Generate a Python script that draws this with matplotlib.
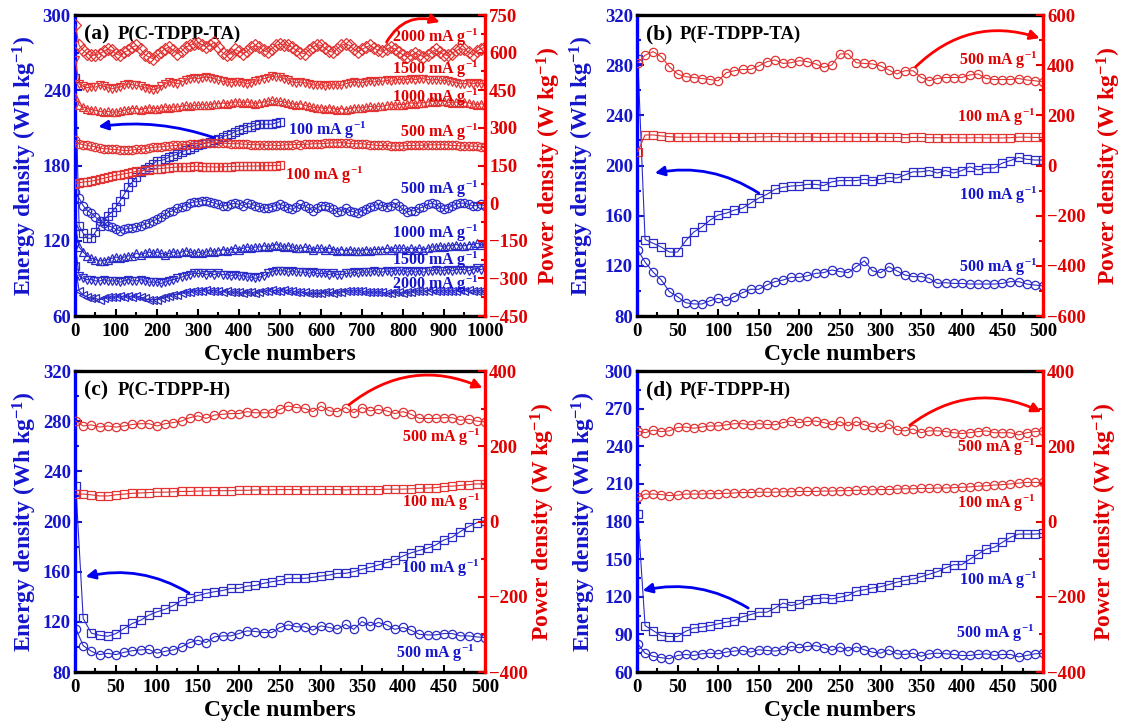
import numpy as np
import matplotlib
matplotlib.use('Agg')
import matplotlib.pyplot as plt
from matplotlib.ticker import MultipleLocator

plt.rcParams['font.family'] = 'Liberation Serif'
plt.rcParams['font.weight'] = 'bold'
plt.rcParams['mathtext.fontset'] = 'custom'
plt.rcParams['mathtext.rm'] = 'Liberation Serif:bold'
plt.rcParams['mathtext.bf'] = 'Liberation Serif:bold'
plt.rcParams['mathtext.it'] = 'Liberation Serif:italic:bold'

BLUE = '#1515cc'
RED = '#e00000'
MBLUE = '#2a2ac8'
MRED = '#e23232'

# cycle numbers
cyc_a = np.r_[1, np.arange(10, 1001, 10)]
cyc_h = np.r_[1, np.arange(10, 501, 10)]

# ---- (a) P(C-TDPP-TA): power density (W kg-1)
p2000_a = [711, 629, 609, 596, 589, 592, 596, 605, 616, 609,
           596, 589, 602, 609, 622, 629, 613, 592, 583, 576,
           589, 602, 616, 622, 609, 596, 605, 622, 629, 636,
           640, 632, 622, 629, 642, 622, 600, 589, 596, 613,
           605, 596, 605, 622, 629, 622, 609, 602, 616, 629,
           636, 632, 629, 622, 609, 600, 596, 609, 622, 632,
           629, 618, 605, 602, 616, 629, 636, 629, 613, 602,
           613, 622, 629, 618, 609, 605, 613, 622, 616, 602,
           592, 583, 589, 600, 592, 583, 589, 602, 613, 602,
           592, 589, 596, 609, 616, 613, 602, 592, 605, 616,
           622]
p1500_a = [569, 476, 466, 460, 463, 463, 470, 466, 460, 456,
           459, 463, 470, 476, 472, 470, 466, 460, 456, 452,
           456, 466, 476, 483, 480, 476, 483, 490, 496, 500,
           496, 500, 503, 500, 496, 490, 486, 483, 480, 483,
           483, 480, 476, 480, 486, 490, 496, 500, 506, 503,
           503, 496, 490, 483, 480, 483, 480, 476, 472, 470,
           472, 466, 470, 472, 470, 470, 476, 480, 483, 480,
           480, 483, 486, 483, 486, 486, 490, 486, 490, 493,
           490, 493, 496, 493, 496, 496, 493, 490, 493, 490,
           490, 486, 483, 480, 476, 476, 480, 476, 480, 476,
           476]
p1000_a = [423, 390, 383, 377, 373, 370, 366, 363, 366, 363,
           363, 366, 370, 373, 377, 377, 373, 377, 380, 377,
           377, 380, 383, 380, 383, 383, 386, 390, 386, 390,
           390, 393, 390, 393, 396, 396, 400, 396, 400, 403,
           403, 400, 403, 400, 396, 400, 403, 406, 410, 406,
           406, 403, 400, 396, 393, 396, 390, 386, 383, 380,
           380, 377, 380, 377, 373, 377, 373, 377, 380, 380,
           380, 383, 386, 383, 386, 386, 390, 393, 390, 393,
           393, 396, 400, 396, 400, 400, 403, 406, 403, 406,
           406, 403, 400, 403, 400, 403, 400, 396, 393, 396,
           393]
p500_a = [250, 237, 233, 230, 227, 224, 220, 217, 217, 214,
          214, 212, 210, 210, 212, 214, 214, 217, 220, 222,
          224, 224, 227, 227, 230, 230, 233, 233, 235, 237,
          237, 240, 240, 241, 241, 241, 240, 238, 237, 237,
          237, 235, 235, 233, 233, 233, 232, 230, 232, 230,
          230, 232, 233, 233, 235, 233, 235, 235, 237, 237,
          237, 238, 240, 240, 241, 241, 240, 238, 237, 237,
          237, 235, 233, 232, 230, 230, 230, 228, 228, 228,
          228, 230, 230, 230, 232, 230, 232, 233, 232, 233,
          233, 232, 230, 230, 228, 228, 228, 227, 227, 224,
          224]
p100_a = [78, 82, 84, 86, 88, 91, 95, 99, 103, 107,
          111, 114, 117, 120, 123, 127, 129, 131, 133, 135,
          137, 138, 140, 141, 143, 144, 145, 145, 146, 147,
          147, 146, 145, 145, 144, 144, 145, 146, 146, 147,
          147, 147, 148, 148, 148, 148, 149, 149, 150, 150,
          151]

# ---- (a) energy density (Wh kg-1)
e100_a = [250, 132, 126, 122, 122, 127, 132, 136, 140, 143,
          147, 152, 157, 163, 167, 171, 175, 177, 179, 181,
          184, 184, 185, 187, 188, 189, 191, 192, 193, 195,
          196, 197, 198, 199, 200, 201, 203, 204, 205, 207,
          208, 209, 211, 211, 212, 213, 213, 213, 213, 214,
          215]
e500_a = [159, 154, 148, 144, 142, 139, 136, 134, 132, 131,
          129, 128, 129, 130, 130, 131, 132, 133, 134, 136,
          137, 139, 141, 143, 144, 146, 147, 148, 150, 151,
          151, 152, 152, 151, 150, 149, 148, 148, 149, 150,
          149, 148, 150, 149, 148, 147, 146, 146, 147, 148,
          149, 148, 146, 145, 147, 149, 148, 146, 144, 146,
          148, 148, 147, 145, 143, 144, 146, 144, 143, 142,
          144, 145, 147, 148, 149, 148, 147, 148, 150, 148,
          145, 143, 144, 144, 146, 147, 149, 150, 149, 147,
          145, 146, 148, 149, 150, 150, 149, 148, 148, 149,
          148]
e1000_a = [132, 115, 111, 108, 106, 105, 104, 104, 105, 106,
           107, 106, 107, 108, 108, 110, 109, 110, 111, 110,
           111, 110, 109, 110, 111, 110, 111, 112, 111, 110,
           111, 110, 111, 112, 111, 112, 113, 112, 113, 114,
           113, 114, 115, 114, 115, 115, 116, 115, 116, 117,
           116, 115, 116, 115, 114, 114, 115, 114, 113, 114,
           114, 113, 114, 113, 112, 113, 112, 113, 112, 112,
           112, 113, 112, 113, 113, 113, 114, 113, 114, 114,
           114, 113, 114, 113, 114, 113, 114, 115, 115, 116,
           115, 116, 116, 117, 116, 116, 117, 117, 118, 117,
           118]
e1500_a = [116, 92, 90, 89, 89, 88, 88, 89, 88, 88,
           88, 87, 88, 89, 88, 88, 89, 88, 87, 87,
           87, 86, 87, 88, 89, 90, 91, 92, 93, 94,
           94, 94, 93, 94, 93, 94, 93, 93, 92, 93,
           92, 92, 91, 91, 90, 91, 92, 94, 95, 96,
           96, 96, 95, 96, 95, 95, 95, 94, 95, 94,
           94, 94, 93, 94, 93, 93, 94, 94, 95, 94,
           95, 95, 95, 96, 95, 95, 96, 95, 96, 96,
           96, 95, 96, 95, 96, 95, 96, 96, 97, 96,
           96, 97, 96, 97, 97, 97, 96, 97, 98, 97,
           98]
e2000_a = [100, 80, 77, 75, 74, 74, 73, 74, 75, 75,
           75, 76, 75, 76, 75, 76, 75, 74, 73, 73,
           73, 74, 75, 76, 77, 77, 78, 79, 79, 80,
           80, 80, 81, 80, 80, 80, 79, 80, 79, 79,
           79, 78, 79, 79, 78, 79, 80, 80, 81, 80,
           80, 81, 80, 80, 79, 79, 79, 78, 78, 78,
           78, 79, 79, 78, 79, 79, 80, 80, 80, 80,
           80, 79, 79, 79, 79, 79, 78, 78, 79, 79,
           78, 79, 79, 80, 80, 80, 80, 81, 80, 80,
           80, 80, 80, 80, 81, 80, 81, 80, 80, 80,
           80]

# ---- (b) P(F-TDPP-TA)
e100_b = [285, 141, 138, 135, 131, 131, 140, 147, 151, 156.5,
          160.5, 162, 164.5, 166, 170, 174, 177, 181, 182.6, 183.7,
          184, 185, 185, 184, 187, 188, 188, 188, 189, 188,
          189, 190.5, 190, 192.5, 195, 195, 196, 194, 196, 194,
          196, 199, 196.5, 198, 198, 202, 204, 206.5, 205, 204.4,
          204.4]
e500_b = [132.6, 123, 115, 108.7, 99.4, 95.4, 90.6, 89.6, 89.6, 92.2,
          94.1, 92.2, 95.4, 98.6, 101.3, 101.3, 104.7, 107.4, 108.7, 110.8,
          110.8, 112, 114, 114.6, 116.7, 115.4, 114.6, 119.3, 124, 116,
          114.6, 119.3, 116, 112.7, 111.4, 111.4, 110, 106, 106.6, 106,
          106, 105.5, 105.5, 105.5, 105.5, 106, 107.4, 107.4, 105.5, 104.7,
          104]
p500_b = [410, 440, 454, 434, 394, 365, 354, 351, 347, 343,
          338, 370, 378, 383, 383, 397, 414, 421, 407, 410,
          418, 414, 405, 391, 401, 445, 445, 410, 407, 405,
          397, 381, 365, 378, 378, 351, 338, 347, 351, 351,
          351, 361, 365, 347, 343, 343, 343, 347, 341, 338,
          334]
p100_b = [55, 122, 122, 118, 115, 113, 113, 113, 114, 113,
          113, 113, 112, 113, 112, 114, 114, 115, 114, 113,
          113, 114, 113, 112, 113, 114, 113, 113, 112, 113,
          113, 112, 112, 111, 112, 112, 111, 111, 110, 111,
          110, 110, 111, 110, 110, 110, 111, 113, 113, 112,
          112]

# ---- (c) P(C-TDPP-H)
e100_c = [228, 122.7, 111, 109.3, 108.5, 110.7, 114.7, 118.7, 121.3, 125.3,
          128, 130, 133, 137, 139, 141, 142.7, 144, 145, 146.7,
          146.7, 148.5, 149, 150.7, 152, 153, 154.7, 154.7, 154.7, 155.5,
          156.5, 157.3, 158.7, 158.7, 160, 161.9, 163.5, 165.3, 167.2, 169.3,
          172.5, 175, 177, 178.7, 181.3, 185.3, 187.5, 192, 196, 199,
          200.8]
e500_c = [114.7, 101, 96.5, 93.9, 94.9, 93.9, 95.7, 97, 97.6, 98,
          95, 96.5, 97.6, 100, 103.5, 105.3, 103.5, 108, 108.8, 108.8,
          110.7, 112.8, 112.3, 111.5, 111.5, 115.5, 117.6, 116, 116, 113.3,
          116.8, 115.5, 114, 118, 114, 120.3, 116.8, 119.5, 117.6, 114,
          115.5, 113.3, 110, 109.6, 109.6, 110.7, 110.7, 108.8, 108.8, 108,
          107.5]
p500_c = [267, 254, 257, 251, 254, 251, 254, 258, 260, 260,
          254, 260, 263, 267, 276, 281, 274, 283, 285, 287,
          287, 292, 289, 289, 289, 298, 307, 303, 301, 292,
          307, 294, 292, 303, 289, 303, 294, 298, 294, 287,
          292, 285, 274, 274, 274, 276, 276, 269, 272, 267,
          265]
p100_c = [73, 73, 71, 68, 68, 71, 73, 75, 76, 77,
          78, 78, 79, 80, 80, 81, 81, 82, 82, 82,
          83, 83, 84, 84, 84, 85, 85, 85, 84, 84,
          85, 85, 85, 84, 85, 85, 85, 85, 86, 86,
          86, 87, 88, 89, 90, 93, 94, 96, 98, 100,
          100]

# ---- (d) P(F-TDPP-H)
e100_d = [186, 97, 93, 89, 88.3, 88.3, 92.5, 95, 95.7, 97,
          98.4, 99.7, 101, 104, 105.8, 107.7, 107.7, 111, 115, 113,
          114.3, 117.5, 118.3, 119, 118.3, 119.6, 121, 124.4, 125.5, 127,
          128, 129.7, 131.6, 133, 134.2, 136, 138, 140, 143, 145.6,
          145.6, 150, 154, 158, 159.4, 163.4, 167.4, 170, 170, 170,
          170.6]
e500_d = [82.5, 75, 72.5, 71.4, 70.6, 73.2, 74, 73.2, 74.5, 75,
          74.5, 75.8, 76.7, 77.2, 75.8, 77.7, 77.2, 76.7, 77.7, 80.4,
          79.3, 80.4, 81, 79.3, 77.2, 80, 76.7, 80, 77.7, 75.8,
          75, 77.7, 74.5, 74, 75, 72.5, 74.5, 75, 74.5, 74,
          73.2, 73.2, 74, 74.5, 73.2, 74, 74, 72, 73.2, 74.5,
          75]
p500_d = [241, 236, 243, 239, 241, 250, 251, 248, 251, 254,
          254, 257, 260, 260, 257, 260, 258, 257, 263, 267,
          263, 266, 267, 263, 257, 266, 254, 266, 257, 251,
          250, 260, 243, 241, 246, 236, 241, 241, 239, 236,
          234, 236, 239, 241, 236, 236, 236, 230, 236, 239,
          241]
p100_d = [64.5, 73, 73, 71.6, 69, 70, 73, 73, 73, 74,
          74, 75, 76, 77, 77, 78, 78, 78, 79, 79,
          80, 80, 80, 81, 81, 82, 82, 83, 83, 84,
          85, 85, 86, 87, 87, 88, 88, 89, 89, 90,
          91, 92, 94, 95, 97, 98, 100, 102, 104, 104,
          104]

SUP = r'$^{\mathbf{-1}}$'


def series(ax, x, y, marker, color, ms=6):
    ax.plot(x, y, color=color, lw=0.8, marker=marker, ms=ms,
            mfc='none', mec=color, mew=0.9)


def panel(rect, xmax, xmaj, ylim, ymaj, y2lim, y2maj, letter, name,
          ylab_x, y2lab_x):
    ax = fig.add_axes(rect)
    ax2 = ax.twinx()
    ax.set_xlim(0, xmax)
    ax.set_ylim(*ylim)
    ax2.set_ylim(*y2lim)
    ax.xaxis.set_major_locator(MultipleLocator(xmaj))
    ax.xaxis.set_minor_locator(MultipleLocator(xmaj / 2))
    ax.yaxis.set_major_locator(MultipleLocator(ymaj))
    ax.yaxis.set_minor_locator(MultipleLocator(ymaj / 2))
    ax2.yaxis.set_major_locator(MultipleLocator(y2maj))
    ax2.yaxis.set_minor_locator(MultipleLocator(y2maj / 2))

    for s in ['top', 'bottom']:
        ax.spines[s].set_linewidth(2.4)
        ax.spines[s].set_color('black')
        ax2.spines[s].set_visible(False)
    ax.spines['left'].set_color('#0000ff')
    ax.spines['left'].set_linewidth(2.4)
    ax.spines['right'].set_visible(False)
    ax2.spines['left'].set_visible(False)
    ax2.spines['right'].set_color('#ff0000')
    ax2.spines['right'].set_linewidth(2.4)

    ax.tick_params(axis='x', which='both', direction='in', width=1.5,
                   labelsize=13.5, pad=5, colors='black')
    ax.tick_params(axis='x', which='major', length=5)
    ax.tick_params(axis='x', which='minor', length=3)
    ax.tick_params(axis='y', which='both', direction='in', width=1.5,
                   colors=BLUE, labelsize=13.5, pad=3)
    ax.tick_params(axis='y', which='major', length=5)
    ax.tick_params(axis='y', which='minor', length=3)
    ax2.tick_params(axis='y', which='both', direction='in', width=1.5,
                    colors=RED, labelsize=13.5, pad=3)
    ax2.tick_params(axis='y', which='major', length=5)
    ax2.tick_params(axis='y', which='minor', length=3)

    ax.set_xlabel('Cycle numbers', fontsize=17, fontweight='bold')
    ax.xaxis.set_label_coords(0.5, -0.092)
    ax.set_ylabel('Energy density (Wh kg' + SUP + ')', fontsize=17,
                  fontweight='bold', color=BLUE)
    ax.yaxis.set_label_coords(ylab_x, 0.5)
    ax2.set_ylabel('Power density (W kg' + SUP + ')', fontsize=17,
                   fontweight='bold', color=RED)
    ax2.yaxis.set_label_coords(y2lab_x, 0.5)

    ax.text(0.022, 0.935, letter, transform=ax.transAxes, fontsize=15.5,
            fontweight='bold', va='center', zorder=10)
    ax.text(0.105, 0.935, name, transform=ax.transAxes, fontsize=13.5,
            fontweight='bold', va='center', zorder=10)
    return ax, ax2


def arrow(ax, start, end, color, rad):
    ax.annotate('', xy=end, xytext=start,
                arrowprops=dict(arrowstyle='-|>', color=color, lw=2,
                                mutation_scale=14, shrinkA=0, shrinkB=0,
                                connectionstyle='arc3,rad=%s' % rad))


def tag(ax, x, y, txt, color, ha='right'):
    ax.text(x, y, txt + SUP, color=color, fontsize=11.5, fontweight='bold',
            ha=ha, va='center', zorder=10)


fig = plt.figure(figsize=(11.21, 7.24), dpi=100)

# ---------------- (a)
ax, ax2 = panel([0.0669, 0.5635, 0.3657, 0.4157], 1000, 100, (60, 300), 60,
                (-450, 750), 150, '(a)', 'P(C-TDPP-TA)', -0.088, 1.122)
series(ax, cyc_h, e100_a, 's', MBLUE)
series(ax, cyc_a, e500_a, 'o', MBLUE)
series(ax, cyc_a, e1000_a, '^', MBLUE)
series(ax, cyc_a, e1500_a, 'v', MBLUE)
series(ax, cyc_a, e2000_a, '<', MBLUE)
series(ax2, cyc_a, p2000_a, 'D', MRED, ms=6)
series(ax2, cyc_a, p1500_a, 'v', MRED)
series(ax2, cyc_a, p1000_a, '^', MRED)
series(ax2, cyc_a, p500_a, 'o', MRED)
series(ax2, cyc_h, p100_a, 's', MRED)
tag(ax2, 985, 662, '2000 mA g', RED)
tag(ax2, 985, 535, '1500 mA g', RED)
tag(ax2, 985, 423, '1000 mA g', RED)
tag(ax2, 985, 283, '500 mA g', RED)
tag(ax2, 512, 112, '100 mA g', RED, ha='left')
tag(ax, 520, 208, '100 mA g', BLUE, ha='left')
tag(ax, 985, 161, '500 mA g', BLUE)
tag(ax, 985, 126, '1000 mA g', BLUE)
tag(ax, 985, 104.5, '1500 mA g', BLUE)
tag(ax, 985, 85.5, '2000 mA g', BLUE)
arrow(ax, (341, 202), (57, 211), '#0000ee', 0.12)
arrow(ax2, (760, 642), (890, 722), '#ff0000', -0.4)

# ---------------- (b)
ax, ax2 = panel([0.5682, 0.5635, 0.3622, 0.4157], 500, 50, (80, 320), 40,
                (-600, 600), 200, '(b)', 'P(F-TDPP-TA)', -0.101, 1.128)
series(ax, cyc_h, e100_b, 's', MBLUE)
series(ax, cyc_h, e500_b, 'o', MBLUE)
series(ax2, cyc_h, p500_b, 'o', MRED)
series(ax2, cyc_h, p100_b, 's', MRED)
tag(ax2, 493, 421, '500 mA g', RED)
tag(ax2, 491, 193, '100 mA g', RED)
tag(ax, 493, 176.5, '100 mA g', BLUE)
tag(ax, 493, 119, '500 mA g', BLUE)
arrow(ax, (150, 178), (22, 194), '#0000ee', 0.2)
arrow(ax2, (343, 393), (496, 508), '#ff0000', -0.3)

# ---------------- (c)
ax, ax2 = panel([0.0669, 0.0718, 0.3657, 0.4157], 500, 50, (80, 320), 40,
                (-400, 400), 200, '(c)', 'P(C-TDPP-H)', -0.087, 1.107)
series(ax, cyc_h, e100_c, 's', MBLUE)
series(ax, cyc_h, e500_c, 'o', MBLUE)
series(ax2, cyc_h, p500_c, 'o', MRED)
series(ax2, cyc_h, p100_c, 's', MRED)
tag(ax2, 495, 225, '500 mA g', RED)
tag(ax2, 495, 52, '100 mA g', RED)
tag(ax, 493, 163, '100 mA g', BLUE)
tag(ax, 487, 95, '500 mA g', BLUE)
arrow(ax, (139, 143), (13, 156), '#0000ee', 0.2)
arrow(ax2, (334, 310), (497, 355), '#ff0000', -0.3)

# ---------------- (d)
ax, ax2 = panel([0.5682, 0.0718, 0.3622, 0.4157], 500, 50, (60, 300), 30,
                (-400, 400), 200, '(d)', 'P(F-TDPP-H)', -0.096, 1.118)
series(ax, cyc_h, e100_d, 's', MBLUE)
series(ax, cyc_h, e500_d, 'o', MBLUE)
series(ax2, cyc_h, p500_d, 'o', MRED)
series(ax2, cyc_h, p100_d, 'o', MRED)
tag(ax2, 491, 198, '500 mA g', RED)
tag(ax2, 491, 49, '100 mA g', RED)
tag(ax, 493, 133.4, '100 mA g', BLUE)
tag(ax, 489, 91, '500 mA g', BLUE)
arrow(ax, (137, 111), (7, 125), '#0000ee', 0.2)
arrow(ax2, (336, 256), (498, 291), '#ff0000', -0.3)

fig.savefig('out.png', dpi=100)
